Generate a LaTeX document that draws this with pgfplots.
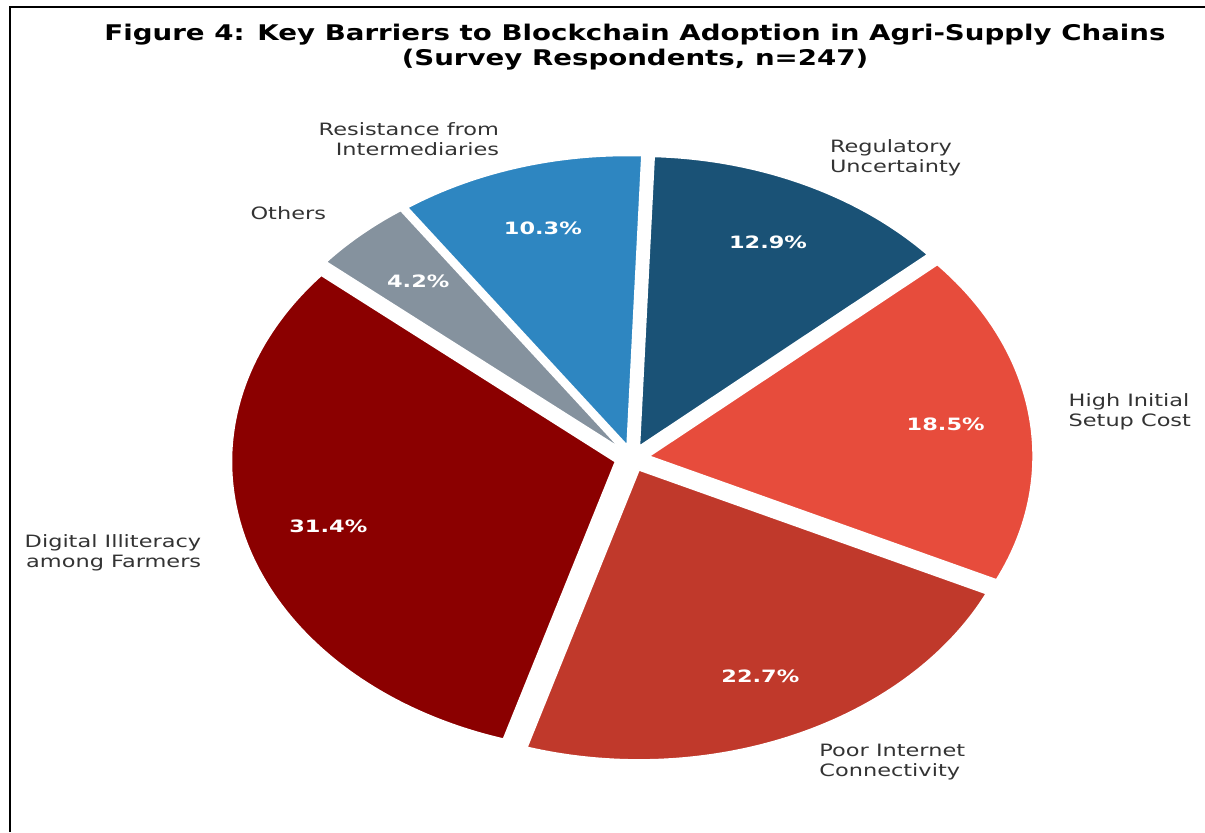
\documentclass[border=0pt]{standalone}
\usepackage{pgfplots}
\pgfplotsset{compat=1.18}
\usepackage{fontspec}
\setmainfont{DejaVu Sans}
\definecolor{cDig}{HTML}{8B0000}
\definecolor{cPoor}{HTML}{C0392B}
\definecolor{cHigh}{HTML}{E74C3C}
\definecolor{cReg}{HTML}{1A5276}
\definecolor{cRes}{HTML}{2E86C1}
\definecolor{cOth}{HTML}{85929E}
\definecolor{ctxt}{HTML}{333333}

% geometry of the pie (axis units = pixels of the reference, y upwards)
\def\cx{632}\def\cy{374}\def\rx{384}\def\ry{290}
\def\ex{0.045}\def\pd{0.78}\def\ld{1.10}

\newcommand\defwedge[3]{% #1 id, #2 start angle, #3 percent
  \pgfmathsetmacro\tmpa{#2}%
  \pgfmathsetmacro\tmpb{#2+3.6*#3}%
  \pgfmathsetmacro\tmpm{#2+1.8*#3}%
  \pgfmathsetmacro\tmpx{\cx+\ex*\rx*cos(\tmpm)}%
  \pgfmathsetmacro\tmpy{\cy+\ex*\ry*sin(\tmpm)}%
  \pgfmathsetmacro\tmppx{\tmpx+\pd*\rx*cos(\tmpm)}%
  \pgfmathsetmacro\tmppy{\tmpy+\pd*\ry*sin(\tmpm)}%
  \pgfmathsetmacro\tmplx{\tmpx+\ld*\rx*cos(\tmpm)}%
  \pgfmathsetmacro\tmply{\tmpy+\ld*\ry*sin(\tmpm)}%
  \global\expandafter\let\csname a#1\endcsname\tmpa
  \global\expandafter\let\csname b#1\endcsname\tmpb
  \global\expandafter\let\csname sx#1\endcsname\tmpx
  \global\expandafter\let\csname sy#1\endcsname\tmpy
  \global\expandafter\let\csname px#1\endcsname\tmppx
  \global\expandafter\let\csname py#1\endcsname\tmppy
  \global\expandafter\let\csname lx#1\endcsname\tmplx
  \global\expandafter\let\csname ly#1\endcsname\tmply
}

\begin{document}
% values (percent of respondents)
\defwedge{A}{140}{31.4}%  Digital Illiteracy among Farmers
\defwedge{B}{\bA}{22.7}%  Poor Internet Connectivity
\defwedge{C}{\bB}{18.5}%  High Initial Setup Cost
\defwedge{D}{\bC}{12.9}%  Regulatory Uncertainty
\defwedge{E}{\bD}{10.3}%  Resistance from Intermediaries
\defwedge{F}{\bE}{4.2}%   Others
\begin{tikzpicture}[
  pct/.style={text=white, font=\bfseries\fontsize{8.5}{10}\selectfont, xscale=1.32, anchor=center},
  lab/.style={text=ctxt, font=\fontsize{8.5}{10}\selectfont, xscale=1.32},
  wedge/.style={draw=white, line width=0.8pt, line join=round, samples=120}]
\path[use as bounding box] (0,0) rectangle (602.5pt,416pt);
\begin{axis}[at={(0,0)}, anchor=south west, width=602.5pt, height=416pt,
  scale only axis, xmin=0, xmax=1205, ymin=0, ymax=832, hide axis, clip=false]
\addplot[wedge, fill=cDig, domain=\aA:\bA] ({\sxA+\rx*cos(x)},{\syA+\ry*sin(x)}) -- (axis cs:\sxA,\syA) -- cycle;
\addplot[wedge, fill=cPoor, domain=\aB:\bB] ({\sxB+\rx*cos(x)},{\syB+\ry*sin(x)}) -- (axis cs:\sxB,\syB) -- cycle;
\addplot[wedge, fill=cHigh, domain=\aC:\bC] ({\sxC+\rx*cos(x)},{\syC+\ry*sin(x)}) -- (axis cs:\sxC,\syC) -- cycle;
\addplot[wedge, fill=cReg, domain=\aD:\bD] ({\sxD+\rx*cos(x)},{\syD+\ry*sin(x)}) -- (axis cs:\sxD,\syD) -- cycle;
\addplot[wedge, fill=cRes, domain=\aE:\bE] ({\sxE+\rx*cos(x)},{\syE+\ry*sin(x)}) -- (axis cs:\sxE,\syE) -- cycle;
\addplot[wedge, fill=cOth, domain=\aF:\bF] ({\sxF+\rx*cos(x)},{\syF+\ry*sin(x)}) -- (axis cs:\sxF,\syF) -- cycle;

\node[pct] at (axis cs:\pxA,\pyA) {31.4\%};
\node[pct] at (axis cs:\pxB,\pyB) {22.7\%};
\node[pct] at (axis cs:\pxC,\pyC) {18.5\%};
\node[pct] at (axis cs:\pxD,\pyD) {12.9\%};
\node[pct] at (axis cs:\pxE,\pyE) {10.3\%};
\node[pct] at (axis cs:\pxF,\pyF) {4.2\%};

\node[lab, anchor=east, align=right] at (axis cs:\lxA,\lyA) {Digital Illiteracy\\among Farmers};
\node[lab, anchor=west, align=left] at (axis cs:\lxB,\lyB) {Poor Internet\\Connectivity};
\node[lab, anchor=west, align=left] at (axis cs:\lxC-8,\lyC) {High Initial\\Setup Cost};
\node[lab, anchor=west, align=left] at (axis cs:\lxD,\lyD) {Regulatory\\Uncertainty};
\node[lab, anchor=east, align=right] at (axis cs:\lxE,\lyE) {Resistance from\\Intermediaries};
\node[lab, anchor=east, align=right] at (axis cs:\lxF,\lyF) {Others};

\node[font=\bfseries\fontsize{10.8}{12.5}\selectfont, xscale=1.28, align=center, anchor=center]
  at (axis cs:635,785) {Figure 4: Key Barriers to Blockchain Adoption in Agri-Supply Chains\\(Survey Respondents, n=247)};

\draw[line width=1.2pt] (axis cs:10,0) -- (axis cs:10,825) -- (axis cs:1205,825);
\end{axis}
\end{tikzpicture}
\end{document}
